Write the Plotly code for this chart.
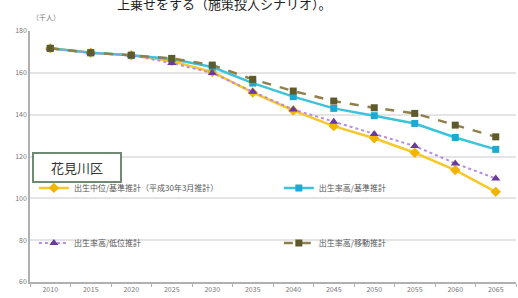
import plotly.graph_objects as go

years = ["2010", "2015", "2020", "2025", "2030", "2035", "2040", "2045", "2050", "2055", "2060", "2065"]
base = [171.7, 169.6, 168.4, 165.6, 160.4, 150.6, 142.0, 134.5, 128.7, 121.8, 113.5, 103.1]
high_base = [171.7, 169.6, 168.4, 166.6, 162.8, 155.1, 148.6, 143.0, 139.5, 135.8, 129.1, 123.4]
high_low = [171.7, 169.6, 168.4, 164.7, 159.9, 151.0, 142.5, 136.6, 130.7, 125.0, 116.7, 109.5]
high_move = [171.7, 169.6, 168.4, 166.9, 163.7, 156.9, 151.3, 146.5, 143.3, 140.6, 135.0, 129.4]
y_ticks = [60, 80, 100, 120, 140, 160, 180]

names = ["出生中位/基準推計（平成30年3月推計）", "出生率高/基準推計", "出生率高/低位推計", "出生率高/移動推計"]

FONT = "Noto Sans CJK JP"
fig = go.Figure()
fig.add_trace(go.Scatter(x=years, y=base, name=names[0], mode="lines+markers", showlegend=True,
                         line=dict(color="#f7c82a", width=2.5),
                         marker=dict(symbol="diamond", size=8, color="#f2b400"), legend="legend"))
fig.add_trace(go.Scatter(x=years, y=high_base, name=names[1], mode="lines+markers", showlegend=True,
                         line=dict(color="#3cc3dc", width=2.5),
                         marker=dict(symbol="square", size=7, color="#1ea8d2"), legend="legend2"))
fig.add_trace(go.Scatter(x=years, y=high_low, name=names[2], mode="lines+markers", showlegend=True,
                         line=dict(color="#b98be6", width=2, dash="dot"),
                         marker=dict(symbol="triangle-up", size=8, color="#6a3a9c"), legend="legend3"))
fig.add_trace(go.Scatter(x=years, y=high_move, name=names[3], mode="lines+markers", showlegend=True,
                         line=dict(color="#8e7f4c", width=2.5, dash="dash"),
                         marker=dict(symbol="square", size=7, color="#5f5a2c"), legend="legend4"))

legend_common = dict(orientation="h", xanchor="left", yanchor="middle", bgcolor="rgba(0,0,0,0)",
                     itemwidth=30, font=dict(family=FONT, size=8, color="#555555"))
fig.update_layout(
    width=518, height=298, showlegend=True,
    margin=dict(l=30, r=2, t=31, b=16),
    paper_bgcolor="white", plot_bgcolor="white",
    font=dict(family=FONT, color="#666666"),
    legend=dict(x=0.008, y=0.375, **legend_common),
    legend2=dict(x=0.512, y=0.375, **legend_common),
    legend3=dict(x=0.008, y=0.155, **legend_common),
    legend4=dict(x=0.512, y=0.155, **legend_common),
    xaxis=dict(type="category", showgrid=False, showline=True, linecolor="#b0b0b0", linewidth=1.5,
               ticks="outside", tickson="boundaries", ticklen=3, tickcolor="#b0b0b0",
               tickfont=dict(size=7, color="#777777"), range=[-0.5, 11.5], fixedrange=True),
    yaxis=dict(range=[60, 180], tickvals=y_ticks, showgrid=True, gridcolor="#e4e4e4", gridwidth=1.5,
               showline=True, linecolor="#b0b0b0", linewidth=1.5, zeroline=False,
               tickfont=dict(size=7, color="#777777"), ticks="", fixedrange=True),
)
fig.add_annotation(text="上乗せをする（施策投入シナリオ）。", xref="paper", yref="paper",
                   x=0.40, y=1.0, yshift=28, xanchor="center", yanchor="middle", showarrow=False,
                   font=dict(family=FONT, size=13, color="#222222"))
fig.add_annotation(text="（千人）", xref="paper", yref="paper", x=0.0, y=1.0, yshift=14,
                   xanchor="left", yanchor="middle", showarrow=False,
                   font=dict(family=FONT, size=7, color="#777777"))
fig.add_annotation(text="花見川区", xref="paper", yref="paper", x=0.004, y=0.458,
                   xanchor="left", yanchor="middle", showarrow=False,
                   width=80, height=21, align="center",
                   bordercolor="#6f8a70", borderwidth=2, borderpad=3, bgcolor="white",
                   font=dict(family=FONT, size=13, color="#333333"))
fig.write_html("out.html", post_script="document.body.style.margin='0px';",
               config={"displayModeBar": False})
